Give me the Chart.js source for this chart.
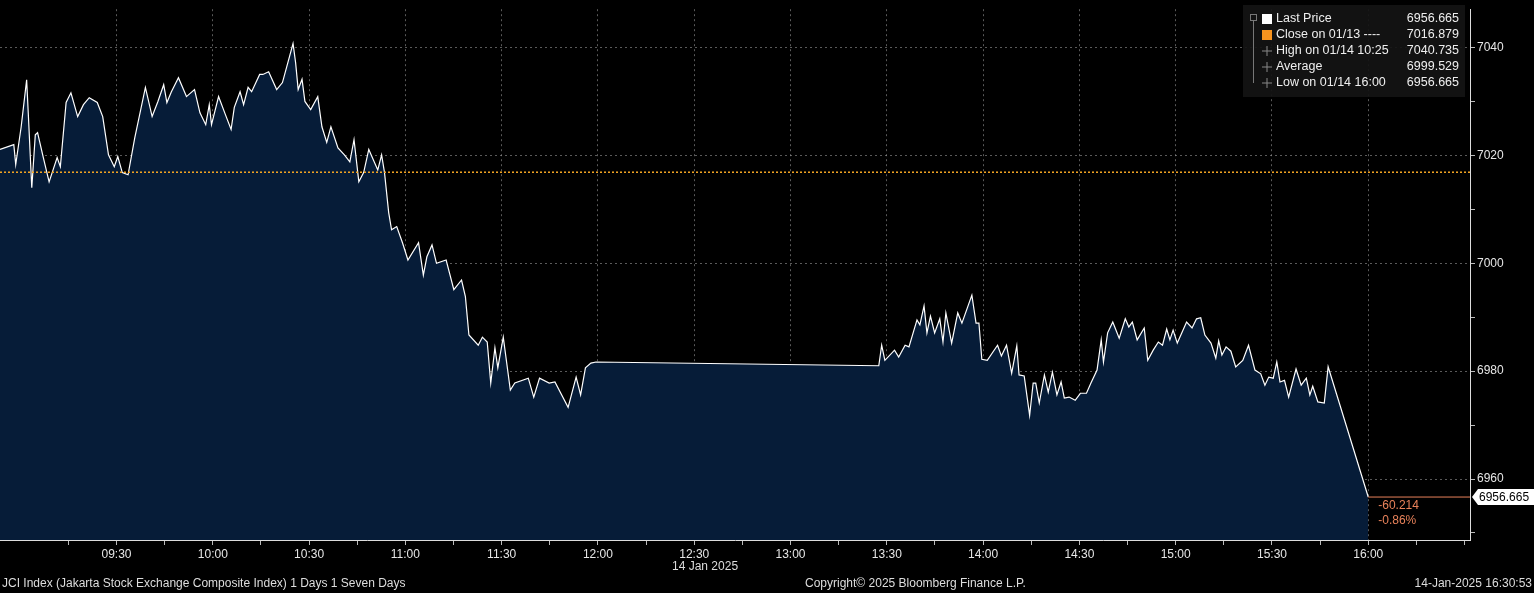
<!DOCTYPE html>
<html>
<head>
<meta charset="utf-8">
<script src="https://cdn.jsdelivr.net/npm/chart.js@4/dist/chart.umd.min.js"></script>
<style>
  html, body { margin: 0; padding: 0; background: #000; }
  #wrap { width: 1534px; height: 593px; }
</style>
</head>
<body>
<div id="wrap"><canvas id="chart-jci"></canvas></div>
<script>
// minutes after 09:00, 14 Jan 2025
const times = [-6.3, -2, -1.4, 0.3, 2, 2.5, 3.6, 4.7, 5.4, 7.2, 9, 11.5, 12.5, 14.3, 15.8, 17.9, 19.7, 21.5, 24, 25.7,
  27.5, 29.3, 30.4, 31.8, 33.6, 35.7, 39, 41.1, 42.9, 44.7, 45.7, 47.1, 49.3, 51.8, 54.3, 56, 57.8, 58.9, 59.6, 61.8,
  63.9, 65.7, 66.7, 68.5, 69.6, 71, 72.1, 74.6, 75.6, 77.4, 79.9, 81.7, 85, 85.8, 86.6, 87.8, 88.7, 90.5, 92.7, 94,
  95.5, 96.8, 99, 101, 102.7, 104, 105.5, 107, 108.6, 111.4, 112.6, 113.5, 114.8, 115.7, 117.3, 119.1, 120.8, 124.1, 125.6, 126.7,
  128.3, 129.7, 132.7, 135.1, 137.5, 138.7, 139.8, 142.7, 144, 145.5, 146.6, 147.9, 148.8, 150.5, 152.7, 154.1, 158.3, 160, 161.8, 164.8,
  166.6, 170.7, 173.2, 174.6, 176.1, 177.8, 179.4, 267.5, 268.4, 269.4, 272.4, 273.7, 275.7, 276.9, 279.4, 280.3, 281.6, 282.5,
  283.6, 284.9, 286.5, 287.5, 288.4, 290.2, 292.1, 293.4, 296.5, 297.8, 298.7, 299.6, 301.3, 304.5, 305.7, 307.3, 308.9, 310.5,
  311.2, 312.8, 314.5, 315.6, 316.4, 317.5, 319.1, 320.3, 321.6, 323, 324.3, 325.3, 326.8, 328.7, 330.3, 332.2, 333.6, 335.5,
  336.8, 337.5, 338.8, 340.4, 342.4, 344.3, 345.4, 346.5, 348, 350.2, 351.3, 353, 354.6, 355.9, 357.2, 358.2, 359.2, 360.5,
  363.4, 365.1, 366.5, 367.8, 369.1, 371, 372.5, 373.4, 374.4, 375.7, 377.2, 378.7, 380.9, 382.7, 384.7, 386.5, 387.8, 389,
  390.4, 391.5, 392.5, 393.9, 395.2, 397.5, 399.1, 400.7, 401.8, 402.7, 404.3, 406.3, 407.5, 420];
const prices = [7021.1, 7022, 7018.3, 7025.3, 7034, 7027.9, 7014, 7023.8, 7024.2, 7019.6, 7015.1, 7019.6, 7017.9, 7029.8, 7031.6, 7027.2, 7029.4, 7030.7, 7029.8, 7027.2,
  7020.1, 7017.9, 7019.8, 7016.8, 7016.4, 7023.3, 7032.6, 7027.2, 7030, 7033.1, 7029.8, 7031.8, 7034.4, 7030.9, 7032.2, 7027.9, 7025.7, 7029.4, 7025.7, 7030.9,
  7027.6, 7024.8, 7028.9, 7031.8, 7029.4, 7032.6, 7031.8, 7035, 7035, 7035.5, 7032.2, 7033.5, 7040.735, 7037.2, 7032.2, 7034.1, 7030, 7028.5, 7030.9, 7025.3,
  7022.4, 7025.3, 7021.4, 7020.1, 7018.8, 7022.9, 7015.1, 7016.8, 7021.1, 7017.3, 7020.1, 7016.8, 7009.4, 7006.2, 7006.8, 7003.8, 7000.6, 7003.8, 6997.8, 7001.2,
  7003.4, 7000, 7000.6, 6995.1, 6996.9, 6993.8, 6986.7, 6984.8, 6986.3, 6985.4, 6977.8, 6984.3, 6980.6, 6986.3, 6976.5, 6977.8, 6978.7, 6975.2, 6978.7, 6977.8,
  6978, 6973.3, 6978.9, 6975.6, 6980.6, 6981.5, 6981.7, 6981, 6984.8, 6982, 6983.9, 6982.6, 6984.8, 6984.5, 6989.5, 6988.6, 6992.1, 6987.1,
  6990.2, 6987.1, 6989.7, 6985.4, 6990.8, 6985.2, 6990.8, 6988.9, 6994.1, 6988.9, 6988.9, 6982.2, 6982, 6984.8, 6982.8, 6984.8, 6979.6, 6984.7,
  6979.3, 6979.1, 6971.8, 6977.8, 6977.8, 6974.1, 6979.3, 6976.1, 6979.8, 6975.6, 6978, 6975, 6975.2, 6974.6, 6975.9, 6975.9, 6977.8, 6980.2,
  6985.8, 6981.7, 6987.1, 6989.1, 6986.1, 6989.7, 6988.2, 6989.1, 6985.8, 6988, 6982, 6983.9, 6985.4, 6984.8, 6987.8, 6985.8, 6987.6, 6985.2,
  6989.1, 6988, 6989.7, 6989.9, 6986.7, 6985.2, 6982.4, 6985.6, 6983, 6984.5, 6983.7, 6980.8, 6982, 6984.8, 6980.2, 6979.5, 6977.4, 6978.9,
  6978.7, 6981.7, 6978, 6978.3, 6975.2, 6980.4, 6977.4, 6978.7, 6975.6, 6977.2, 6974.3, 6974.1, 6980.8, 6956.665];

const prevClose = 7016.879;
const lastPrice = 6956.665;
const yTicks = [6960, 6980, 7000, 7020, 7040];
const legendRows = [
  ["Last Price", "6956.665"],
  ["Close on 01/13 ----", "7016.879"],
  ["High on 01/14 10:25", "7040.735"],
  ["Average", "6999.529"],
  ["Low on 01/14 16:00", "6956.665"],
];

const FONT = "Liberation Sans, Arial, sans-serif";
const gridCol = "rgba(150,150,150,0.6)";

function fmtTime(m) {
  const h = 9 + Math.floor(m / 60);
  const mm = m % 60;
  return String(h).padStart(2, "0") + ":" + String(mm).padStart(2, "0");
}

const extras = {
  id: "bbgExtras",
  afterDatasetsDraw(chart) {
    const { ctx, chartArea, scales } = chart;
    const y = scales.y, x = scales.x;
    ctx.save();
    // previous close dotted line
    const yc = y.getPixelForValue(prevClose);
    ctx.strokeStyle = "#f5a623";
    ctx.lineWidth = 1.5;
    ctx.setLineDash([2, 2]);
    ctx.beginPath(); ctx.moveTo(chartArea.left, yc); ctx.lineTo(chartArea.right, yc); ctx.stroke();
    ctx.setLineDash([]);
    // last price line
    const yl = y.getPixelForValue(lastPrice);
    const x16 = x.getPixelForValue(420);
    ctx.strokeStyle = "#e8825a"; ctx.lineWidth = 1;
    ctx.beginPath(); ctx.moveTo(x16, yl); ctx.lineTo(chartArea.right, yl); ctx.stroke();
    ctx.font = "12px " + FONT;
    ctx.fillStyle = "#e8825a";
    ctx.textBaseline = "middle";
    ctx.fillText("-60.214", x16 + 10, yl + 9);
    ctx.fillText("-0.86%", x16 + 10, yl + 24);
    // price tag
    const tx = chartArea.right + 2;
    ctx.fillStyle = "#fff";
    ctx.beginPath();
    ctx.moveTo(tx, yl); ctx.lineTo(tx + 6, yl - 8); ctx.lineTo(1534, yl - 8);
    ctx.lineTo(1534, yl + 8); ctx.lineTo(tx + 6, yl + 8); ctx.closePath(); ctx.fill();
    ctx.fillStyle = "#000";
    ctx.fillText("6956.665", tx + 7, yl + 1);
    // legend box
    ctx.fillStyle = "rgba(20,20,20,0.92)";
    ctx.fillRect(1243, 5, 222, 92);
    ctx.font = "12.5px " + FONT;
    legendRows.forEach((r, i) => {
      const ry = 19 + i * 16;
      ctx.fillStyle = "#eee";
      ctx.textAlign = "left";
      ctx.fillText(r[0], 1276, ry);
      ctx.textAlign = "right";
      ctx.fillText(r[1], 1459, ry);
      if (i === 0) { ctx.fillStyle = "#fff"; ctx.fillRect(1262, ry - 5, 10, 10); }
      if (i === 1) { ctx.fillStyle = "#f7931e"; ctx.fillRect(1262, ry - 5, 10, 10); }
      if (i >= 2) {
        ctx.strokeStyle = "#888"; ctx.lineWidth = 1;
        ctx.beginPath(); ctx.moveTo(1262, ry); ctx.lineTo(1272, ry); ctx.stroke();
        ctx.beginPath(); ctx.moveTo(1267, ry - 5); ctx.lineTo(1267, ry + 5); ctx.stroke();
      }
    });
    ctx.strokeStyle = "#777";
    ctx.strokeRect(1250.5, 14.5, 6, 6);
    ctx.beginPath(); ctx.moveTo(1253.5, 21); ctx.lineTo(1253.5, 83); ctx.stroke();
    // footer
    ctx.textAlign = "left";
    ctx.fillStyle = "#ddd";
    ctx.font = "12px " + FONT;
    ctx.fillText("14 Jan 2025", 672, 567);
    ctx.fillText("JCI Index (Jakarta Stock Exchange Composite Index) 1 Days 1 Seven Days", 2, 584);
    ctx.fillText("Copyright\u00a9 2025 Bloomberg Finance L.P.", 805, 584);
    ctx.textAlign = "right";
    ctx.fillText("14-Jan-2025 16:30:53", 1532, 584);
    ctx.restore();
  },
};

new Chart(document.getElementById("chart-jci"), {
  type: "line",
  data: {
    datasets: [{
      data: times.map((t, i) => ({ x: t, y: prices[i] })),
      borderColor: "#ffffff",
      borderWidth: 1.2,
      backgroundColor: "#061c38",
      fill: "start",
      pointRadius: 0,
      tension: 0,
    }],
  },
  options: {
    responsive: true,
    maintainAspectRatio: false,
    animation: false,
    layout: { padding: 0 },
    plugins: { legend: { display: false }, tooltip: { enabled: false } },
    scales: {
      x: {
        type: "linear",
        min: -6.3,
        max: 451.7,
        afterFit: (s) => { s.height = 53; },
        afterBuildTicks: (s) => {
          const t = [];
          for (let m = 15; m <= 450; m += 15) t.push({ value: m });
          s.ticks = t;
        },
        border: { color: "#ddd", dash: [2, 3] },
        grid: {
          color: (c) => (c.tick && c.tick.value % 30 === 0 && c.tick.value <= 420 ? gridCol : "rgba(0,0,0,0)"),
          tickColor: "#bbb",
          tickLength: 5,
        },
        ticks: {
          color: "#e6e6e6",
          font: { family: FONT, size: 12 },
          maxRotation: 0,
          autoSkip: false,
          padding: 2,
          callback: (v) => (v % 30 === 0 && v >= 30 && v <= 420 ? fmtTime(v) : ""),
        },
      },
      y: {
        position: "right",
        min: 6948.7,
        max: 7047.1,
        afterFit: (s) => { s.width = 64; },
        afterBuildTicks: (s) => {
          const t = [];
          for (let v = 6950; v <= 7040; v += 10) t.push({ value: v });
          s.ticks = t;
        },
        border: { color: "#ddd", dash: [2, 3] },
        grid: {
          color: (c) => (c.tick && yTicks.includes(c.tick.value) ? gridCol : "rgba(0,0,0,0)"),
          tickColor: "#bbb",
          tickLength: 5,
        },
        ticks: {
          color: "#e6e6e6",
          font: { family: FONT, size: 12 },
          padding: 2,
          callback: (v) => (yTicks.includes(v) ? String(v) : ""),
        },
      },
    },
  },
  plugins: [extras],
});
</script>
</body>
</html>
